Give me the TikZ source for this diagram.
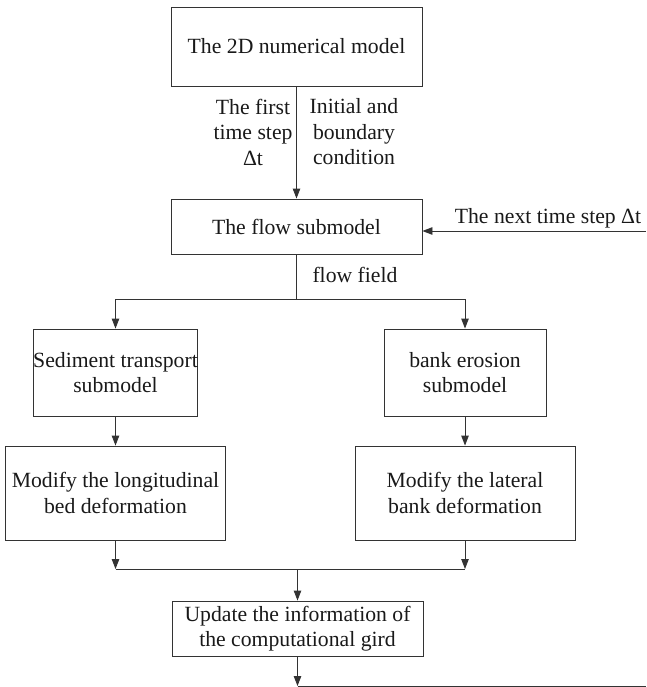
\documentclass[tikz,border=0pt]{standalone}
\usepackage{fontspec}
\setmainfont{Liberation Serif}
\usetikzlibrary{arrows.meta}
\begin{document}
\begin{tikzpicture}[x=1pt,y=-1pt,
  every node/.style={font=\fontsize{21.7}{25.5}\selectfont, text=black!90, inner sep=0pt},
  box/.style={draw=black!80, line width=0.9pt, align=center},
  conn/.style={draw=black!80, line width=0.9pt},
  arr/.style={conn, -{Triangle[length=10pt,width=7.5pt]}},
  lbl/.style={align=center}]
\useasboundingbox (0,0) rectangle (646,687);
% boxes
\node[box, minimum width=251pt, minimum height=79pt] (top) at (296.5,46.5) {The 2D numerical model};
\node[box, minimum width=251pt, minimum height=55pt] (flow) at (296.5,226.5) {The flow submodel};
\node[box, minimum width=162pt, minimum height=87pt] (sed) at (115.5,372.5) {Sediment transport\\submodel};
\node[box, minimum width=162pt, minimum height=87pt] (bank) at (465,372.5) {bank erosion\\submodel};
\node[box, minimum width=220pt, minimum height=94pt] (modL) at (115.5,493) {Modify the longitudinal\\bed deformation};
\node[box, minimum width=220pt, minimum height=94pt] (modR) at (465,493) {Modify the lateral\\bank deformation};
\node[box, minimum width=251pt, minimum height=55pt] (upd) at (297.5,628.5) {Update the information of\\the computational gird};
% labels
\node[lbl] (l1) at (253,132) {The first\\time step\\Δt};
\node[lbl] (l2) at (354,132) {Initial and\\boundary\\condition};
\node[lbl] (l3) at (548,218) {The next time step Δt};
\node[lbl] (l4) at (355,275) {flow field};
% coordinates
\coordinate (nextR) at (646,231);
\coordinate (split) at (296.5,299);
\coordinate (merge) at (297.5,569);
\coordinate (endB) at (646,686);
% connectors
\draw[arr] (top.south) -- (flow.north);
\draw[arr] (nextR) -- (nextR -| flow.east);
\draw[conn] (flow.south) -- (split);
\draw[arr] (split) -| (sed.north);
\draw[arr] (split) -| (bank.north);
\draw[arr] (sed.south) -- (modL.north);
\draw[arr] (bank.south) -- (modR.north);
\draw[arr] (modL.south) -- (modL.south |- merge);
\draw[arr] (modR.south) -- (modR.south |- merge);
\draw[conn] (modL.south |- merge) -- (modR.south |- merge);
\draw[arr] (merge) -- (upd.north);
\draw[arr] (upd.south) -- (upd.south |- endB);
\draw[conn] (upd.south |- endB) -- (endB);
\end{tikzpicture}
\end{document}
